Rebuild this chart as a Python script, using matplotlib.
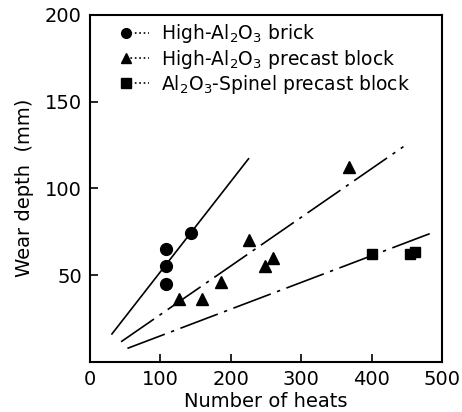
import matplotlib
matplotlib.use("Agg")
import matplotlib.pyplot as plt
import numpy as np

# ---- data ----
brick_x = [108, 108, 108, 144]
brick_y = [65, 55, 45, 74]
precast_x = [126, 159, 186, 225, 249, 260, 368]
precast_y = [36, 36, 46, 70, 55, 60, 112]
spinel_x = [400, 454, 462]
spinel_y = [62, 62, 63]

# fitted lines (end points)
brick_fit_x = [31, 225]
brick_fit_y = [16, 117]
precast_fit_x = [44, 445]
precast_fit_y = [11.5, 124]
spinel_fit_x = [53, 488]
spinel_fit_y = [7.7, 74.7]

labels = ['High-Al$_2$O$_3$ brick',
          'High-Al$_2$O$_3$ precast block',
          'Al$_2$O$_3$-Spinel precast block']

x_ticks = [0, 100, 200, 300, 400, 500]
y_ticks = [50, 100, 150, 200]

plt.rcParams['font.family'] = ['DejaVu Sans']

fig = plt.figure(figsize=(4.62, 4.12), dpi=100)
ax = fig.add_axes([0.195, 0.122, 0.762, 0.842])

# fit lines
ax.plot(brick_fit_x, brick_fit_y, color='black', lw=1.2)
ax.plot(precast_fit_x, precast_fit_y, color='black', lw=1.2,
        linestyle=(0, (24, 4, 2, 4)))
ax.plot(spinel_fit_x, spinel_fit_y, color='black', lw=1.2,
        linestyle=(0, (24, 4, 2, 4)))

# data points
ax.plot(brick_x, brick_y, 'o', color='black', ms=8.5, ls='none')
ax.plot(precast_x, precast_y, '^', color='black', ms=8, ls='none')
ax.plot(spinel_x, spinel_y, 's', color='black', ms=7, ls='none')

# legend: marker first, then a dotted leader
h1, = ax.plot([], [], marker='o', color='black', ms=7, ls=':', lw=1.2)
h2, = ax.plot([], [], marker='^', color='black', ms=6.5, ls=':', lw=1.2)
h3, = ax.plot([], [], marker='s', color='black', ms=6.5, ls=':', lw=1.2)
leg = ax.legend([h1, h2, h3], labels, loc='upper left', frameon=False,
                fontsize=13.5, handlelength=1.8, handletextpad=0.35,
                numpoints=2, borderaxespad=0.0,
                bbox_to_anchor=(0.065, 1.0), labelspacing=0.12)
for line in leg.get_lines():
    line.set_markevery([0])

ax.set_xlim(0, 500)
ax.set_ylim(0, 200)
ax.set_xticks(x_ticks)
ax.set_yticks(y_ticks)
ax.tick_params(direction='in', length=6, width=1.2, labelsize=14, pad=6)
for s in ax.spines.values():
    s.set_linewidth(1.5)

ax.set_xlabel('Number of heats', fontsize=14, labelpad=2)
ax.set_ylabel('Wear depth  (mm)', fontsize=14, labelpad=8)

fig.savefig('out.png', dpi=100)
